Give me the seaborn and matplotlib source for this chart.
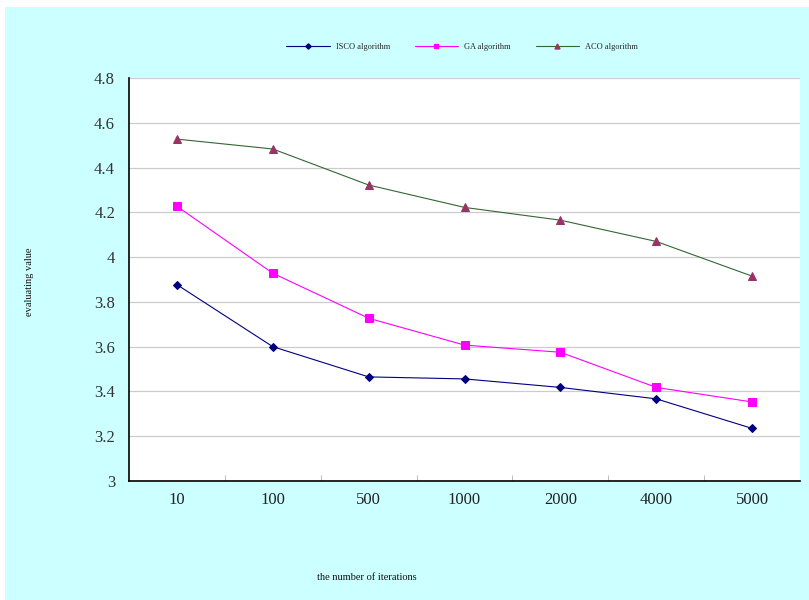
import matplotlib
matplotlib.use("Agg")
import matplotlib.pyplot as plt
from matplotlib.patches import Rectangle
from matplotlib.lines import Line2D
import numpy as np
import pandas as pd
import seaborn as sns

# Iteration counts (categorical axis) and evaluating values per algorithm
iterations = ["10", "100", "500", "1000", "2000", "4000", "5000"]
isco = [3.877, 3.600, 3.465, 3.456, 3.418, 3.367, 3.235]
ga = [4.227, 3.928, 3.727, 3.607, 3.575, 3.418, 3.353]
aco = [4.527, 4.483, 4.322, 4.222, 4.165, 4.070, 3.915]
series_names = ["ISCO algorithm", "GA algorithm", "ACO algorithm"]
y_ticks = [3.0, 3.2, 3.4, 3.6, 3.8, 4.0, 4.2, 4.4, 4.6, 4.8]
y_tick_labels = ["3", "3.2", "3.4", "3.6", "3.8", "4", "4.2", "4.4", "4.6", "4.8"]

pos = np.arange(len(iterations))
df = pd.concat([
    pd.DataFrame({"pos": pos, "value": vals, "algorithm": name})
    for name, vals in zip(series_names, [isco, ga, aco])
])

sns.set_theme(style="white")
plt.rcParams["font.family"] = ["Liberation Serif", "DejaVu Serif"]

fig = plt.figure(figsize=(8.09, 6.0), dpi=100)
fig.patch.set_facecolor("white")
# Cyan chart area behind the plot
fig.patches.append(Rectangle((5 / 809, 0), 804 / 809, 593 / 600,
                             transform=fig.transFigure, facecolor="#CCFFFF",
                             edgecolor="none", zorder=-10))

ax = fig.add_axes([129 / 809, 1 - 481 / 600, 671 / 809, 403 / 600])
ax.set_zorder(5)
ax.set_facecolor("white")

line_colors = {"ISCO algorithm": "#000080", "GA algorithm": "#FF00FF", "ACO algorithm": "#336633"}
marker_colors = {"ISCO algorithm": "#000080", "GA algorithm": "#FF00FF", "ACO algorithm": "#993366"}
markers = {"ISCO algorithm": "D", "GA algorithm": "s", "ACO algorithm": "^"}
msizes = {"ISCO algorithm": 4.5, "GA algorithm": 6, "ACO algorithm": 6}

for name in series_names:
    sub = df[df["algorithm"] == name]
    sns.lineplot(data=sub, x="pos", y="value", ax=ax, color=line_colors[name],
                 linewidth=0.8, marker=markers[name], markersize=msizes[name],
                 markerfacecolor=marker_colors[name], markeredgecolor=marker_colors[name],
                 legend=False, zorder=3)

ax.set_xlim(-0.5, len(iterations) - 0.5)
ax.set_ylim(3.0, 4.8)
ax.set_yticks(y_ticks)
ax.set_yticklabels(y_tick_labels, fontsize=12, color="#333333")
ax.set_xticks(pos)
ax.set_xticklabels(iterations, fontsize=12, color="#222222")
ax.set_xticks(np.arange(0.5, len(iterations) - 1, 1), minor=True)
ax.tick_params(axis="x", which="major", length=0, pad=8)
ax.tick_params(axis="x", which="minor", bottom=True, length=4, direction="in",
               color="#BBBBBB", width=0.7)
ax.tick_params(axis="y", which="major", length=0, pad=10)
ax.yaxis.grid(True, color="#CCCCCC", linewidth=0.9)
ax.set_axisbelow(True)

for side in ["top", "right"]:
    ax.spines[side].set_visible(False)
for side in ["left", "bottom"]:
    ax.spines[side].set_color("black")
    ax.spines[side].set_linewidth(1.2)

ax.set_xlabel("")
ax.set_ylabel("")
fig.text(367 / 809, 1 - 578 / 600, "the number of iterations", fontsize=7.5,
         ha="center", va="center", color="#111111")
fig.text(30 / 809, 1 - 282 / 600, "evaluating value", fontsize=7.5, rotation=90,
         ha="center", va="center", color="#111111")

handles = [Line2D([0], [0], color=line_colors[n], linewidth=0.8, marker=markers[n],
                  markersize=msizes[n] * 0.6, markerfacecolor=marker_colors[n],
                  markeredgecolor=marker_colors[n]) for n in series_names]
fig.legend(handles, series_names, loc="center", bbox_to_anchor=(462 / 809, 1 - 47 / 600),
           ncol=3, frameon=False, fontsize=6, handlelength=5.2, columnspacing=3.0,
           handletextpad=0.7)

fig.savefig("out.png", dpi=100, facecolor="white")
